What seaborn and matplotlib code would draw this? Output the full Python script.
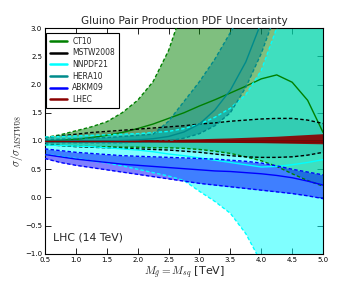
import numpy as np
import pandas as pd
import matplotlib
matplotlib.use("Agg")
import matplotlib.pyplot as plt
from matplotlib.lines import Line2D
import seaborn as sns

# ---------------- data ----------------
mass = [0.5, 0.75, 1.0, 1.25, 1.5, 1.75, 2.0, 2.25, 2.5, 2.75, 3.0,
        3.25, 3.5, 3.75, 4.0, 4.25, 4.5, 4.75, 5.0]

ct10_c = [1.0, 1.01, 1.03, 1.06, 1.1, 1.15, 1.22, 1.3, 1.4, 1.5, 1.62,
          1.73, 1.85, 1.97, 2.1, 2.17, 2.04, 1.72, 1.15]
ct10_u = [1.06, 1.11, 1.18, 1.25, 1.34, 1.5, 1.72, 2.05, 2.6, 3.4, 4.3,
          5.5, 7.0, 8.5, 10.0, 11.0, 12.0, 13.0, 14.0]
ct10_l = [0.93, 0.92, 0.91, 0.9, 0.9, 0.89, 0.89, 0.88, 0.88, 0.87, 0.85,
          0.82, 0.78, 0.72, 0.65, 0.55, 0.42, 0.3, 0.2]

mstw_c = [1.0] * 19
mstw_u = [1.06, 1.09, 1.12, 1.15, 1.17, 1.19, 1.21, 1.23, 1.25, 1.27, 1.3,
          1.32, 1.35, 1.37, 1.39, 1.4, 1.4, 1.37, 1.31]
mstw_l = [0.94, 0.92, 0.9, 0.89, 0.88, 0.87, 0.86, 0.85, 0.84, 0.82, 0.8,
          0.77, 0.74, 0.72, 0.71, 0.71, 0.72, 0.75, 0.8]

nnpdf_c = [0.93, 0.92, 0.91, 0.9, 0.88, 0.86, 0.84, 0.81, 0.77, 0.74, 0.7,
           0.66, 0.62, 0.58, 0.54, 0.55, 0.58, 0.62, 0.67]
nnpdf_u = [1.07, 1.08, 1.09, 1.1, 1.11, 1.12, 1.13, 1.15, 1.17, 1.22, 1.3,
           1.42, 1.58, 1.82, 2.25, 3.0, 4.0, 5.5, 7.0]
nnpdf_l = [0.76, 0.73, 0.69, 0.65, 0.61, 0.56, 0.5, 0.44, 0.38, 0.3, 0.11,
           -0.07, -0.28, -0.64, -1.15, -1.8, -2.6, -3.5, -4.5]

hera_c = [1.0, 1.0, 1.0, 1.0, 1.0, 1.01, 1.02, 1.04, 1.08, 1.16, 1.3,
          1.55, 1.9, 2.4, 3.1, 3.9, 4.8, 5.8, 7.0]
hera_u = [1.03, 1.03, 1.04, 1.05, 1.06, 1.08, 1.1, 1.12, 1.35, 1.7, 2.05,
          2.45, 2.92, 3.4, 3.9, 4.5, 5.2, 6.0, 7.0]
hera_l = [0.97, 0.97, 0.97, 0.97, 0.97, 0.97, 0.98, 0.99, 1.0, 1.05, 1.13,
          1.27, 1.5, 1.95, 2.55, 3.3, 4.2, 5.2, 6.5]

abkm_c = [0.76, 0.72, 0.68, 0.65, 0.62, 0.59, 0.57, 0.55, 0.53, 0.51, 0.49,
          0.47, 0.46, 0.44, 0.42, 0.39, 0.35, 0.29, 0.22]
abkm_u = [0.86, 0.83, 0.8, 0.78, 0.76, 0.74, 0.73, 0.72, 0.71, 0.7, 0.69,
          0.68, 0.66, 0.64, 0.61, 0.56, 0.5, 0.45, 0.4]
abkm_l = [0.69, 0.62, 0.57, 0.53, 0.49, 0.45, 0.41, 0.37, 0.33, 0.29, 0.25,
          0.22, 0.19, 0.16, 0.13, 0.1, 0.07, 0.03, -0.02]

lhec_c = [1.0] * 19
lhec_u = [1.005, 1.007, 1.01, 1.012, 1.015, 1.018, 1.02, 1.025, 1.03, 1.035,
          1.04, 1.048, 1.055, 1.065, 1.075, 1.085, 1.1, 1.115, 1.13]
lhec_l = [0.995, 0.993, 0.99, 0.99, 0.99, 0.988, 0.985, 0.985, 0.983, 0.98,
          0.98, 0.978, 0.975, 0.972, 0.97, 0.965, 0.96, 0.955, 0.95]

pdf_names = ["CT10", "MSTW2008", "NNPDF21", "HERA10", "ABKM09", "LHEC"]
x_ticks = [0.5, 1.0, 1.5, 2.0, 2.5, 3.0, 3.5, 4.0, 4.5, 5.0]
y_ticks = [-1.0, -0.5, 0.0, 0.5, 1.0, 1.5, 2.0, 2.5, 3.0]

bands = {
    "CT10": (ct10_c, ct10_u, ct10_l),
    "MSTW2008": (mstw_c, mstw_u, mstw_l),
    "NNPDF21": (nnpdf_c, nnpdf_u, nnpdf_l),
    "HERA10": (hera_c, hera_u, hera_l),
    "ABKM09": (abkm_c, abkm_u, abkm_l),
    "LHEC": (lhec_c, lhec_u, lhec_l),
}
colors = {"CT10": "green", "MSTW2008": "black", "NNPDF21": "cyan",
          "HERA10": "darkcyan", "ABKM09": "blue", "LHEC": "darkred"}
fill_alpha = {"CT10": 0.5, "MSTW2008": 0.18, "NNPDF21": 0.5,
              "HERA10": 0.5, "ABKM09": 0.5, "LHEC": 0.92}

# ---------------- style ----------------
sns.set_style("ticks")
plt.rcParams.update({
    "font.family": ["DejaVu Sans"],
    "mathtext.fontset": "cm",
    "xtick.direction": "in", "ytick.direction": "in",
    "xtick.top": True, "ytick.right": True,
    "xtick.major.size": 4, "ytick.major.size": 4,
    "xtick.major.width": 0.6, "ytick.major.width": 0.6,
    "axes.edgecolor": "black", "axes.linewidth": 0.8,
    "xtick.color": "black", "ytick.color": "black",
})

fig = plt.figure(figsize=(3.59, 2.82), dpi=100)
ax = fig.add_axes([0.125, 0.0993, 0.775, 0.8014])

rows = []
for name in pdf_names:
    c, u, l = bands[name]
    for xi, ci, ui, li in zip(mass, c, u, l):
        rows.append({"pdf": name, "mass": xi, "center": ci, "upper": ui, "lower": li})
df = pd.DataFrame(rows)

# fills first
for name in pdf_names:
    d = df[df.pdf == name]
    ax.fill_between(d["mass"], d["lower"], d["upper"], color=colors[name],
                    alpha=fill_alpha[name], linewidth=0, zorder=1)

# lines
for name in pdf_names:
    d = df[df.pdf == name]
    col = colors[name]
    sns.lineplot(data=d, x="mass", y="center", color=col, lw=1.0, ax=ax,
                 zorder=3, legend=False)
    if name != "LHEC":
        for edge in ("upper", "lower"):
            sns.lineplot(data=d, x="mass", y=edge, color=col, lw=1.0, ax=ax,
                         zorder=3, legend=False, dashes=False)
            ax.lines[-1].set_dashes([2.5, 1.6])

ax.set_xlim(0.5, 5.0)
ax.set_ylim(-1.0, 3.0)
ax.set_xticks(x_ticks)
ax.set_yticks(y_ticks)
ax.set_xticklabels([f"{v:.1f}" for v in x_ticks], fontsize=5)
ax.set_yticklabels([f"{v:.1f}".replace("-", "\u2212") for v in y_ticks], fontsize=5)
ax.tick_params(pad=2)

ax.set_xlabel(r"$M_{\tilde{g}} = M_{sq}$ [TeV]", fontsize=8, labelpad=1)
ax.set_ylabel(r"$\sigma/\sigma_{MSTW08}$", fontsize=8, labelpad=0)
ax.set_title("Gluino Pair Production PDF Uncertainty", fontsize=7.6, pad=3)

ax.text(0.63, -0.71, "LHC (14 TeV)", fontsize=7.8, va="center", ha="left")

handles = [Line2D([], [], color=colors[n], lw=1.8) for n in pdf_names]
leg = ax.legend(handles, pdf_names, loc="upper left",
                bbox_to_anchor=(0.005, 0.978), borderaxespad=0,
                fontsize=5.5, handlelength=2.2, handletextpad=0.7,
                labelspacing=0.35, borderpad=0.5, frameon=True,
                fancybox=False, framealpha=1.0, edgecolor="black")
leg.get_frame().set_linewidth(0.8)
leg.set_zorder(10)

fig.savefig("out.png", dpi=100)
